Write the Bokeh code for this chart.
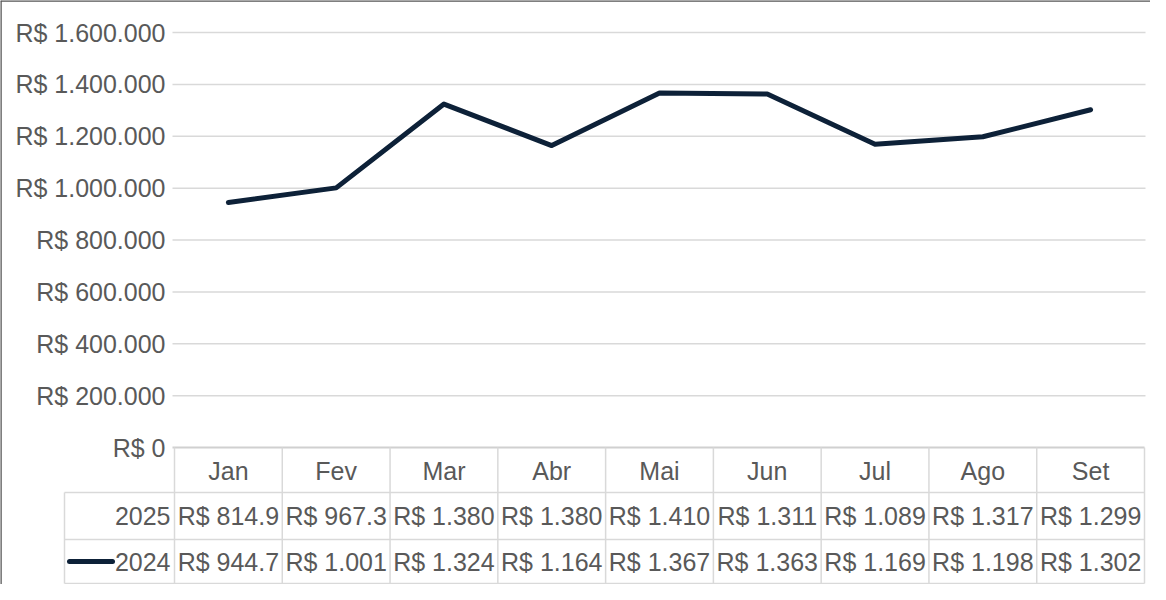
from bokeh.plotting import figure
from bokeh.models import Range1d, ColumnDataSource, Span
from bokeh.core.properties import value
from bokeh.embed import file_html
from bokeh.resources import INLINE

# ---------------- data ----------------
months = ["Jan", "Fev", "Mar", "Abr", "Mai", "Jun", "Jul", "Ago", "Set"]
series_names = ["2025", "2024"]
table_2025 = ["R$ 814.9", "R$ 967.3", "R$ 1.380", "R$ 1.380", "R$ 1.410",
              "R$ 1.311", "R$ 1.089", "R$ 1.317", "R$ 1.299"]
table_2024 = ["R$ 944.7", "R$ 1.001", "R$ 1.324", "R$ 1.164", "R$ 1.367",
              "R$ 1.363", "R$ 1.169", "R$ 1.198", "R$ 1.302"]
values_2024 = [944700, 1001000, 1324000, 1164000, 1367000,
               1363000, 1169000, 1198000, 1302000]
y_ticks = [0, 200000, 400000, 600000, 800000, 1000000, 1200000, 1400000, 1600000]
y_tick_labels = ["R$ 0", "R$ 200.000", "R$ 400.000", "R$ 600.000", "R$ 800.000",
                 "R$ 1.000.000", "R$ 1.200.000", "R$ 1.400.000", "R$ 1.600.000"]

# ---------------- layout (figure pixels) ----------------
W, H = 1150, 584
COL_LEFT, COL_RIGHT = 174, 1144
ZERO_PY, TOP_PY = 447, 32
YMAX = y_ticks[-1]
n = len(months)
colw = (COL_RIGHT - COL_LEFT) / n


def xd(px):
    return (px - COL_LEFT) / colw


def yd(py):
    return (ZERO_PY - py) * YMAX / (ZERO_PY - TOP_PY)


FONT = value("Liberation Sans")
TXT = "#595959"
GRID = "#d9d9d9"
LINE = "#0d2138"

p = figure(width=W, height=H, output_backend="svg", toolbar_location=None,
           x_range=Range1d(xd(0), xd(W)), y_range=Range1d(yd(H), yd(0)),
           x_axis_type=None, y_axis_type=None, min_border=0)
p.xgrid.visible = False
p.ygrid.visible = False
p.outline_line_color = None
p.background_fill_color = "white"
p.border_fill_color = "white"

# chart border (top/left visible)
p.add_layout(Span(location=yd(0), dimension="width", line_color="#555555", line_width=2.5))
p.add_layout(Span(location=xd(0), dimension="height", line_color="#555555", line_width=2.5))

# horizontal gridlines
p.segment(x0=[xd(172)] * (len(y_ticks) - 1), x1=[xd(1145)] * (len(y_ticks) - 1),
          y0=y_ticks[1:], y1=y_ticks[1:], line_color=GRID, line_width=1.5)

# y tick labels
p.text(x=[xd(165)] * len(y_ticks), y=y_ticks, text=y_tick_labels,
       text_font=FONT, text_font_size="25px", text_color=TXT,
       text_align="right", text_baseline="middle")

# ---------------- data table ----------------
ROW_TOPS = [447, 492, 539]
ROW_BOT = 583
LABEL_LEFT = 64
col_edges = [i for i in range(n + 1)]

# header top (axis) line
p.segment(x0=[xd(172)], x1=[xd(COL_RIGHT)], y0=[0], y1=[0], line_color="#d0d0d0", line_width=2)
# other horizontal lines
hy = [yd(ROW_TOPS[1]), yd(ROW_TOPS[2]), yd(ROW_BOT)]
p.segment(x0=[xd(LABEL_LEFT)] * 3, x1=[xd(COL_RIGHT)] * 3, y0=hy, y1=hy,
          line_color=GRID, line_width=1.5)
# vertical lines
p.segment(x0=col_edges, x1=col_edges, y0=[0] * len(col_edges), y1=[yd(ROW_BOT)] * len(col_edges),
          line_color=GRID, line_width=1.5)
p.segment(x0=[xd(LABEL_LEFT)], x1=[xd(LABEL_LEFT)], y0=[yd(ROW_TOPS[1])], y1=[yd(ROW_BOT)],
          line_color=GRID, line_width=1.5)

centers = [i + 0.5 for i in range(n)]
row_mid = [yd((ROW_TOPS[0] + ROW_TOPS[1]) / 2 + 1),
           yd((ROW_TOPS[1] + ROW_TOPS[2]) / 2),
           yd((ROW_TOPS[2] + ROW_BOT) / 2)]

p.text(x=centers, y=[row_mid[0]] * n, text=months, text_font=FONT, text_font_size="25px",
       text_color=TXT, text_align="center", text_baseline="middle")
p.text(x=centers, y=[row_mid[1]] * n, text=table_2025, text_font=FONT, text_font_size="25px",
       text_color=TXT, text_align="center", text_baseline="middle")
p.text(x=centers, y=[row_mid[2]] * n, text=table_2024, text_font=FONT, text_font_size="25px",
       text_color=TXT, text_align="center", text_baseline="middle")
p.text(x=[xd(170)] * 2, y=row_mid[1:], text=series_names, text_font=FONT, text_font_size="25px",
       text_color=TXT, text_align="right", text_baseline="middle")

# legend key for 2024
p.line(x=[xd(69), xd(112)], y=[row_mid[2], row_mid[2]], line_color=LINE, line_width=5,
       line_cap="round")

# ---------------- series line ----------------
src = ColumnDataSource(dict(x=centers, y=values_2024))
p.line(x="x", y="y", source=src, line_color=LINE, line_width=5,
       line_cap="round", line_join="round")

open("out.html", "w").write(file_html(p, INLINE))
